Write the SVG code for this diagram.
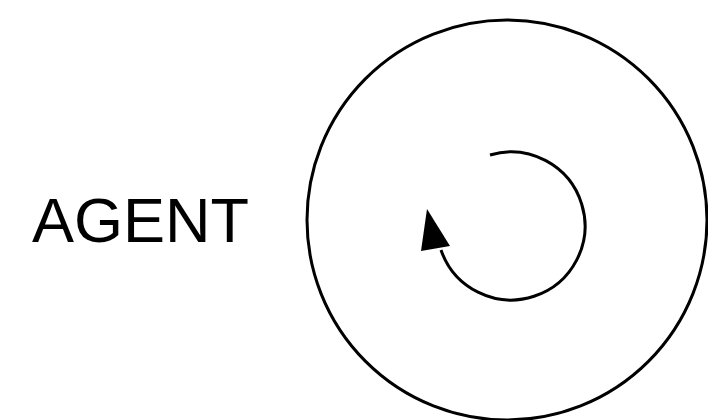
<svg xmlns="http://www.w3.org/2000/svg" width="708" height="420" viewBox="0 0 708 420">
  <style>
    .outline { fill: none; stroke: #000; stroke-width: 3; }
    .loop { fill: none; stroke: #000; stroke-width: 3; }
    .label { font-family: "Liberation Sans", Arial, Helvetica, sans-serif; font-size: 63px; fill: #000; }
  </style>
  <rect width="708" height="420" fill="#fff"/>
  <g id="agent-label">
    <text class="label" x="32" y="242">AGENT</text>
  </g>
  <g id="agent">
    <circle class="outline" cx="507" cy="220" r="200"/>
  </g>
  <g id="connectors">
    <path class="loop" d="M 490 155 A 74 74 0 1 1 441 250"/>
    <polygon points="427,209 421,251 450,246" fill="#000"/>
  </g>
</svg>
